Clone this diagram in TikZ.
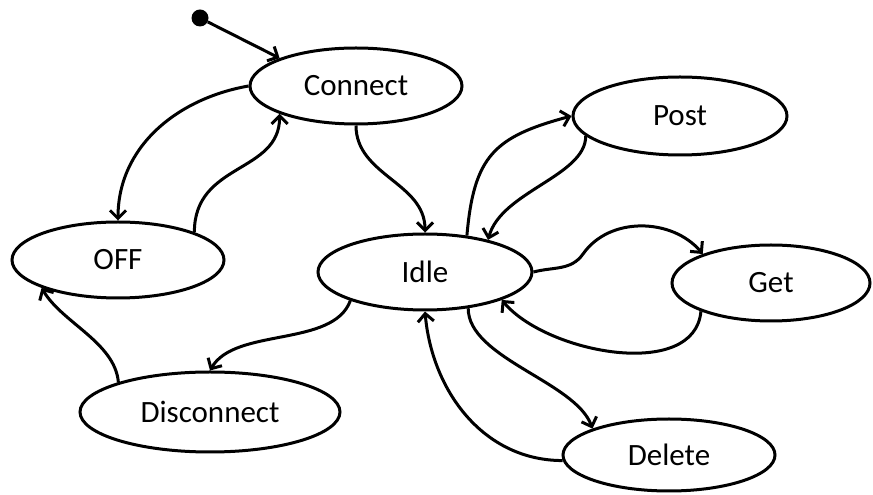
\documentclass[tikz,border=0pt]{standalone}
\usepackage{fontspec}
\setmainfont{Carlito}
\usetikzlibrary{arrows.meta, shapes.geometric}
\tikzset{
    state/.style={draw=black, line width=3pt, ellipse, inner sep=0pt, minimum width=212pt, minimum height=76pt, font=\fontsize{31}{36}\selectfont},
    trans/.style={line width=3pt, -{Straight Barb[length=8pt, width=16pt]}},
}
\begin{document}
\begin{tikzpicture}[x=1pt, y=1pt]
        \useasboundingbox (0,0) rectangle (873,495);

        \node[state] (connect) at (356,409) {Connect};
        \node[state] (off) at (118,235) {OFF};
        \node[state, minimum width=214pt] (idle) at (425,223) {Idle};
        \node[state, minimum width=214pt, minimum height=78pt] (post) at (680,379) {Post};
        \node[state, minimum width=198pt] (get) at (771,212) {Get};
        \node[state, minimum width=260pt, minimum height=80pt] (disconnect) at (210,83) {Disconnect};
        \node[state, minimum height=72pt] (delete) at (669,40) {Delete};
        \node[circle, fill=black, inner sep=0pt, minimum size=17pt] (init) at (200,477) {};

        \draw[trans] (init) -- (connect.160);
        \draw[trans] (connect.west) to[out=190, in=90] (off.north);
        \draw[trans] (off.20) to[out=90, in=-90, out distance=70pt, in distance=60pt] (connect.200);
        \draw[trans] (connect.south) to[out=-90, in=90] (idle.north);

        \draw[trans] (idle.41) to[out=85, in=195, out distance=80pt, in distance=80pt] (post.west);
        \draw[trans] (post.192) to[out=-90, in=75, out distance=40pt, in distance=50pt] (idle.27);
        \draw[trans] (idle.east) to[out=15, in=235] (583,241) to[out=55, in=130] (get.157);
        \draw[trans] (get.202) to[out=-95, in=-50, out distance=70pt, in distance=70pt] (idle.-20);
        \draw[trans] (idle.-40) to[out=-90, in=110, out distance=50pt, in distance=50pt] (delete.161);
        \draw[trans] (delete.183) to[out=180, in=-85] (idle.south);

        \draw[trans] (idle.201) to[out=-110, in=60, out distance=50pt, in distance=50pt] (disconnect.north);
        \draw[trans] (disconnect.162) to[out=95, in=-60, out distance=40pt, in distance=40pt] (off.200);
    \end{tikzpicture}
\end{document}
